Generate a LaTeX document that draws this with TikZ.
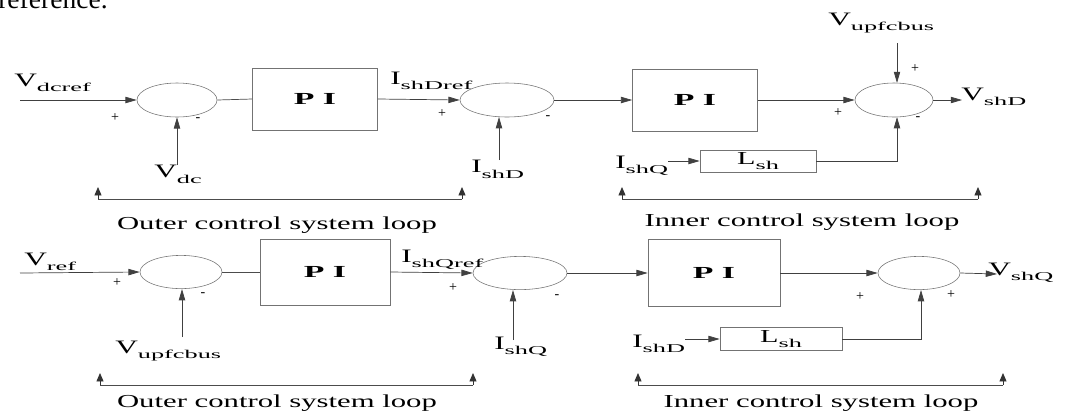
\documentclass[tikz,border=0pt]{standalone}
\usepackage{fontspec}
\setmainfont{Liberation Serif}
\usepackage{graphicx}
\usetikzlibrary{shapes.geometric,arrows.meta,positioning}

\newcommand{\lbl}[2]{\scalebox{1.65}[1]{#1}\raisebox{-4pt}{\scalebox{2.2}[1]{\fontsize{8.5}{9}\selectfont #2}}}
\newcommand{\wide}[1]{\scalebox{1.68}[1]{#1}}
\newcommand{\piname}{\scalebox{2}[1]{P\hspace{0.25em}I}}

\tikzset{
  sumnode/.style={draw=black!55, ellipse, minimum width=2cm, minimum height=0.85cm, inner sep=0pt},
  piblock/.style={draw=black!55, rectangle, minimum width=3.125cm, minimum height=1.55cm, font=\bfseries\fontsize{12}{14}\selectfont},
  lblock/.style={draw=black!55, rectangle, minimum width=2.9cm, minimum height=0.55cm, inner sep=0pt, font=\fontsize{13}{15}\selectfont},
  varlabel/.style={inner sep=0pt, font=\fontsize{13.5}{16}\selectfont},
  signlabel/.style={inner sep=0pt, font=\fontsize{10}{11}\selectfont},
  looplabel/.style={inner sep=0pt, font=\fontsize{13}{15}\selectfont},
  sigline/.style={draw=black!75, line width=0.5pt, -{Triangle[length=8pt,width=4.5pt]}},
  tickline/.style={draw=black!80, line width=0.6pt, -{Triangle[length=6pt,width=5pt]}},
  wire/.style={draw=black!70, line width=0.5pt},
}

\begin{document}
\begin{tikzpicture}[x=0.025cm,y=-0.025cm]
\useasboundingbox (0,0) rectangle (1067,410);
\clip (0,0) rectangle (1067,410);
\node[anchor=base west, inner sep=0pt, font=\fontsize{19.6}{21}\selectfont] (refword) at (-2,8) {reference.};

% d-axis: blocks
\node[sumnode] (sumA) at (177,100) {};
\node[piblock] (piA) at (315,99) {\piname};
\node[sumnode, minimum width=2.35cm] (sumB) at (507,100) {};
\node[piblock] (piB) at (695,100) {\piname};
\node[sumnode, minimum width=1.95cm] (sumC) at (894,100) {};
\node[lblock] (lshA) at (758,161) {\lbl{L}{sh}};

% d-axis: signals
\node[varlabel, anchor=base west] (vdcref) at (14,86) {\lbl{V}{dcref}};
\coordinate (inA) at (20,100);
\node[varlabel, anchor=north west] (vdc) at (154,165) {\lbl{V}{dc}};
\node[varlabel, anchor=base west] (ishdref) at (390,84) {\lbl{I}{shDref}};
\node[varlabel, anchor=north west] (ishd) at (471,160) {\lbl{I}{shD}};
\node[varlabel, anchor=base west] (vupfcA) at (828,25) {\lbl{V}{upfcbus}};
\node[varlabel, anchor=base west] (ishqA) at (615,168) {\lbl{I}{shQ}};
\node[varlabel, anchor=base west] (vshd) at (961,100) {\lbl{V}{shD}};
\coordinate (outA) at (962,100);

\draw[sigline] (inA) -- (sumA.west);
\draw[sigline] (sumA.south |- vdc.north) -- (sumA.south);
\draw[wire] (sumA.east) -- (piA.west);
\draw[sigline] (piA.east) -- (sumB.west);
\draw[sigline] (ishd.north -| 499,0) -- (499,117);
\draw[sigline] (sumB.east) -- (piB.west);
\draw[sigline] (piB.east) -- (sumC.west);
\draw[sigline] (897,43) -- (897,83);
\draw[sigline] (ishqA.east |- lshA.west) -- (lshA.west);
\draw[sigline] (lshA.east) -| (897,117);
\draw[sigline] (sumC.east) -- (outA);

% q-axis: blocks
\node[sumnode, minimum width=2.05cm, minimum height=0.83cm] (sumD) at (181,272) {};
\node[piblock, minimum width=3.25cm, minimum height=1.65cm] (piC) at (325,272) {\piname};
\node[sumnode, minimum width=2.35cm, minimum height=0.83cm] (sumE) at (520,273) {};
\node[piblock, minimum width=3.3cm, minimum height=1.675cm] (piD) at (714,273) {\piname};
\node[sumnode, minimum width=2.05cm, minimum height=0.83cm] (sumF) at (919,273) {};
\node[lblock, minimum width=3.05cm, minimum height=0.575cm] (lshB) at (781,339) {\lbl{L}{sh}};

% q-axis: signals
\node[varlabel, anchor=base west] (vref) at (24,265) {\lbl{V}{ref}};
\coordinate (inB) at (20,273);
\node[varlabel, anchor=base west] (vupfcB) at (115,353) {\lbl{V}{upfcbus}};
\node[varlabel, anchor=base west] (ishqref) at (401,262) {\lbl{I}{shQref}};
\node[varlabel, anchor=base west] (ishqB) at (494,349) {\lbl{I}{shQ}};
\node[varlabel, anchor=base west] (ishdB) at (632,347) {\lbl{I}{shD}};
\node[varlabel, anchor=base west] (vshq) at (988,275) {\lbl{V}{shQ}};
\coordinate (outB) at (997,274);

\draw[sigline] (inB) -- (sumD.west);
\draw[sigline] (182,337) -- (182,289);
\draw[wire] (sumD.east) -- (piC.west);
\draw[sigline] (piC.east) -- (sumE.west);
\draw[sigline] (513,340) -- (513,290);
\draw[sigline] (sumE.east) -- (piD.west);
\draw[sigline] (piD.east) -- (sumF.west);
\draw[sigline] (ishdB.east |- lshB.west) -- (lshB.west);
\draw[sigline] (lshB.east) -| (921,290);
\draw[sigline] (sumF.east) -- (outB);

% signs at the summing points
\foreach \s/\px/\py [count=\i] in {+/115/118, -/198/120, +/442/114, -/548/118,
    +/838/113, +/915/69, -/918/119, +/117/283, -/203/295, +/453/288,
    -/557/297, +/860/297, +/951/295}
  \node[signlabel] (sign\i) at (\px,\py) {\s};

% loop brackets
\foreach \nm/\xa/\xb/\yb in {outerA/98/462/199, innerA/622/978/199,
    outerB/100/473/385, innerB/638/1003/385} {
  \coordinate (\nm L) at (\xa,\yb);
  \coordinate (\nm R) at (\xb,\yb);
  \draw[wire] (\nm L) -- (\nm R);
  \draw[tickline] (\nm L) -- ++(0,-12);
  \draw[tickline] (\nm R) -- ++(0,-12);
}
\node[looplabel] (outerAtxt) at (277,225) {\wide{Outer control system loop}};
\node[looplabel] (innerAtxt) at (802,222) {\wide{Inner control system loop}};
\node[looplabel] (outerBtxt) at (277,403) {\wide{Outer control system loop}};
\node[looplabel] (innerBtxt) at (821,403) {\wide{Inner control system loop}};
\end{tikzpicture}
\end{document}
